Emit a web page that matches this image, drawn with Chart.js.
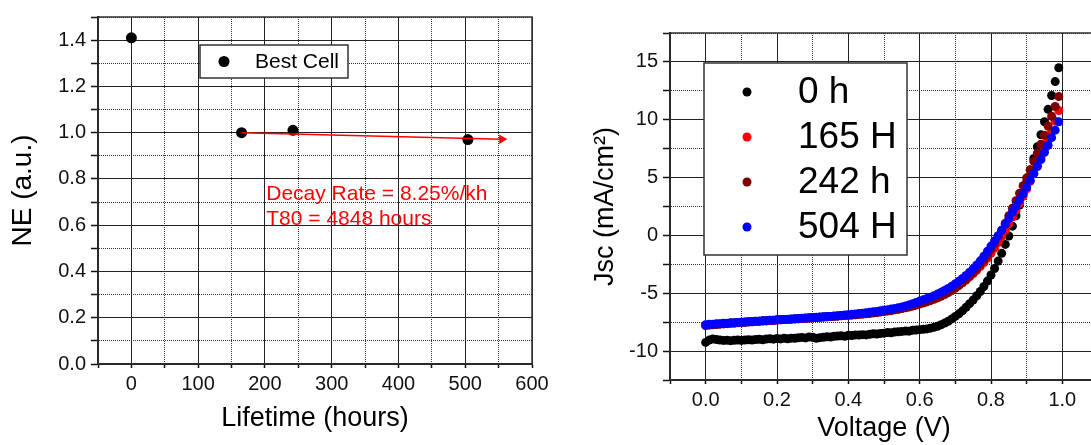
<!DOCTYPE html>
<html lang="en">
<head>
<meta charset="UTF-8">
<title>NE lifetime and J-V curves</title>
<script src="https://cdn.jsdelivr.net/npm/chart.js"></script>
<style>
  html, body { margin: 0; padding: 0; background: #fff; overflow: hidden; }
  body { width: 1091px; height: 445px; position: relative; }
  #lifeBox { position: absolute; left: 0; top: 0; width: 560px; height: 445px; }
  #jvBox { position: absolute; left: 580px; top: 0; width: 530px; height: 445px; }
</style>
</head>
<body>
<div id="lifeBox"><canvas id="lifeChart" width="560" height="445"></canvas></div>
<div id="jvBox"><canvas id="jvChart" width="530" height="445"></canvas></div>
<script>
// left panel: normalised efficiency vs lifetime
var lifeHours = [0, 165, 242, 504];
var lifeNE = [1.41, 1.00, 1.01, 0.97];
var fitHours = [165, 555];
var fitNE = [1.00, 0.972];
var lifeLegend = 'Best Cell';
var decayNote = ['Decay Rate = 8.25%/kh', 'T80 = 4848 hours'];

// right panel: J-V curves at different ages
var voltage = [
  0.00, 0.01, 0.02, 0.03, 0.04, 0.05, 0.06, 0.07, 0.08, 0.09,
  0.10, 0.11, 0.12, 0.13, 0.14, 0.15, 0.16, 0.17, 0.18, 0.19,
  0.20, 0.21, 0.22, 0.23, 0.24, 0.25, 0.26, 0.27, 0.28, 0.29,
  0.30, 0.31, 0.32, 0.33, 0.34, 0.35, 0.36, 0.37, 0.38, 0.39,
  0.40, 0.41, 0.42, 0.43, 0.44, 0.45, 0.46, 0.47, 0.48, 0.49,
  0.50, 0.51, 0.52, 0.53, 0.54, 0.55, 0.56, 0.57, 0.58, 0.59,
  0.60, 0.61, 0.62, 0.63, 0.64, 0.65, 0.66, 0.67, 0.68, 0.69,
  0.70, 0.71, 0.72, 0.73, 0.74, 0.75, 0.76, 0.77, 0.78, 0.79,
  0.80, 0.81, 0.82, 0.83, 0.84, 0.85, 0.86, 0.87, 0.88, 0.89,
  0.90, 0.91, 0.92, 0.93, 0.94, 0.95, 0.96, 0.97, 0.98, 0.99
];
var jsc0h = [
  -9.25, -9.05, -8.95, -9.00, -9.05, -9.08, -9.06, -9.10, -9.07, -9.05,
  -9.08, -9.04, -9.02, -9.05, -9.00, -8.98, -9.02, -8.96, -8.94, -8.97,
  -8.92, -8.95, -8.90, -8.93, -8.88, -8.90, -8.85, -8.82, -8.86, -8.78,
  -8.80, -8.90, -8.84, -8.80, -8.76, -8.78, -8.72, -8.70, -8.68, -8.72,
  -8.64, -8.66, -8.60, -8.62, -8.58, -8.60, -8.55, -8.50, -8.52, -8.47,
  -8.45, -8.40, -8.42, -8.36, -8.33, -8.30, -8.26, -8.28, -8.20, -8.18,
  -8.15, -8.12, -8.08, -8.02, -7.95, -7.85, -7.72, -7.58, -7.42, -7.22,
  -7.00, -6.78, -6.52, -6.22, -5.90, -5.58, -5.22, -4.85, -4.42, -3.95,
  -3.42, -2.86, -2.22, -1.55, -0.78, -0.05, 0.80, 1.70, 2.62, 3.60,
  4.62, 5.65, 6.65, 7.67, 8.70, 9.83, 10.90, 12.10, 13.30, 14.50
];
var jsc165h = [
  -7.78, -7.74, -7.70, -7.69, -7.65, -7.62, -7.63, -7.58, -7.57, -7.53,
  -7.52, -7.50, -7.44, -7.47, -7.43, -7.42, -7.37, -7.39, -7.33, -7.35,
  -7.31, -7.30, -7.27, -7.27, -7.24, -7.22, -7.20, -7.19, -7.16, -7.14,
  -7.11, -7.10, -7.08, -7.06, -7.03, -7.02, -6.99, -6.97, -6.94, -6.92,
  -6.90, -6.87, -6.85, -6.81, -6.79, -6.75, -6.72, -6.68, -6.65, -6.60,
  -6.56, -6.51, -6.47, -6.41, -6.36, -6.30, -6.23, -6.16, -6.08, -5.99,
  -5.90, -5.80, -5.70, -5.59, -5.47, -5.34, -5.20, -5.05, -4.89, -4.71,
  -4.52, -4.31, -4.09, -3.85, -3.59, -3.31, -3.01, -2.69, -2.34, -1.96,
  -1.55, -1.10, -0.62, -0.10, 0.44, 1.00, 1.58, 2.16, 2.76, 3.38,
  4.02, 4.68, 5.36, 6.06, 6.76, 7.48, 8.22, 9.00, 9.88, 10.80
];
var jsc242h = [
  -7.80, -7.75, -7.72, -7.70, -7.67, -7.65, -7.62, -7.60, -7.58, -7.56,
  -7.53, -7.51, -7.49, -7.47, -7.45, -7.43, -7.40, -7.38, -7.36, -7.34,
  -7.32, -7.30, -7.28, -7.26, -7.24, -7.22, -7.20, -7.18, -7.16, -7.14,
  -7.12, -7.10, -7.08, -7.06, -7.04, -7.02, -7.00, -6.98, -6.95, -6.93,
  -6.91, -6.88, -6.86, -6.83, -6.80, -6.77, -6.74, -6.70, -6.67, -6.63,
  -6.58, -6.54, -6.49, -6.44, -6.38, -6.32, -6.26, -6.19, -6.11, -6.03,
  -5.94, -5.85, -5.75, -5.64, -5.52, -5.40, -5.26, -5.11, -4.95, -4.77,
  -4.56, -4.33, -4.08, -3.81, -3.52, -3.21, -2.88, -2.52, -2.13, -1.71,
  -1.20, -0.68, -0.13, 0.45, 1.05, 1.70, 2.35, 3.00, 3.65, 4.30,
  4.98, 5.68, 6.40, 7.12, 7.88, 8.65, 9.45, 10.30, 11.15, 12.00
];
var jsc504h = [
  -7.72, -7.68, -7.67, -7.64, -7.63, -7.60, -7.59, -7.56, -7.55, -7.52,
  -7.50, -7.49, -7.46, -7.45, -7.42, -7.41, -7.38, -7.37, -7.34, -7.33,
  -7.30, -7.28, -7.27, -7.24, -7.23, -7.20, -7.18, -7.17, -7.14, -7.12,
  -7.10, -7.08, -7.06, -7.04, -7.02, -7.00, -6.97, -6.95, -6.92, -6.89,
  -6.86, -6.82, -6.79, -6.76, -6.73, -6.69, -6.65, -6.61, -6.57, -6.52,
  -6.47, -6.42, -6.37, -6.31, -6.25, -6.18, -6.10, -6.01, -5.91, -5.80,
  -5.68, -5.57, -5.46, -5.34, -5.21, -5.07, -4.92, -4.76, -4.58, -4.39,
  -4.18, -3.96, -3.72, -3.46, -3.18, -2.88, -2.56, -2.20, -1.80, -1.37,
  -0.92, -0.48, -0.02, 0.45, 0.95, 1.45, 2.00, 2.52, 3.05, 3.60,
  4.18, 4.76, 5.35, 5.95, 6.55, 7.18, 7.80, 8.45, 9.10, 9.82
];
var jvLabels = ['0 h', '165 H', '242 h', '504 H'];
var jvColors = ['#000000', '#ff0000', '#800000', '#0000ff'];

var FONT = "'Liberation Sans', Arial, sans-serif";

function pairs(xs, ys) {
  return xs.map(function(x, i) { return { x: x, y: ys[i] }; });
}

// major grid = solid, minor = dotted
function gridFor(isMajor, tickLen) {
  return {
    grid: {
      color: function(c) { return c.tick && !isMajor(c.tick.value) ? '#333' : '#222'; },
      lineWidth: 1,
      tickLength: tickLen,
      tickColor: '#111',
      tickWidth: 1.5
    },
    border: {
      color: '#111',
      width: 2,
      dash: function(c) { return c.tick && !isMajor(c.tick.value) ? [1, 1] : []; }
    }
  };
}

var frame = {
  id: 'frame',
  afterDraw: function(chart) {
    var a = chart.chartArea, ctx = chart.ctx;
    ctx.save();
    ctx.strokeStyle = '#333';
    ctx.lineWidth = 1.5;
    ctx.strokeRect(a.left, a.top, a.right - a.left, a.bottom - a.top);
    ctx.restore();
  }
};

function boxLegend(id, items, colors, box) {
  return {
    id: id,
    afterDatasetsDraw: function(chart) {
      var a = chart.chartArea, ctx = chart.ctx;
      var bx = a.left + box.dx, by = a.top + box.dy;
      ctx.save();
      ctx.fillStyle = '#fff';
      ctx.fillRect(bx, by, box.w, box.h);
      ctx.strokeStyle = '#333';
      ctx.lineWidth = 1.5;
      ctx.strokeRect(bx, by, box.w, box.h);
      ctx.font = box.size + 'px ' + FONT;
      ctx.textBaseline = 'middle';
      ctx.textAlign = 'left';
      items.forEach(function(t, i) {
        var cy = by + box.row0 + i * box.gap;
        ctx.fillStyle = colors[i];
        ctx.beginPath();
        ctx.arc(bx + box.mx, cy, box.r, 0, Math.PI * 2);
        ctx.fill();
        ctx.fillStyle = '#000';
        ctx.fillText(t, bx + box.tx, cy + 1);
      });
      ctx.restore();
    }
  };
}

var decayText = {
  id: 'decayText',
  afterDatasetsDraw: function(chart) {
    var ctx = chart.ctx, xs = chart.scales.x, ys = chart.scales.y;
    ctx.save();
    ctx.fillStyle = '#ff0000';
    ctx.font = '21px ' + FONT;
    ctx.textBaseline = 'middle';
    ctx.fillText(decayNote[0], xs.getPixelForValue(202), ys.getPixelForValue(0.735));
    ctx.fillText(decayNote[1], xs.getPixelForValue(202), ys.getPixelForValue(0.625));
    ctx.restore();
  }
};

var tickFont = { family: FONT, size: 20 };
var titleFont = { family: FONT, size: 27 };

var lifeX = gridFor(function(v) { return Math.round(v) % 100 === 0; }, 4);
var lifeY = gridFor(function(v) { return Math.round(v * 10) % 2 === 0; }, 7);

new Chart(document.getElementById('lifeChart'), {
  data: {
    datasets: [
      {
        type: 'line',
        data: pairs(fitHours, fitNE),
        borderColor: '#ff0000',
        backgroundColor: '#ff0000',
        borderWidth: 1.5,
        pointRadius: [0, 4],
        pointStyle: 'triangle',
        rotation: 90,
        order: 0
      },
      {
        type: 'scatter',
        label: lifeLegend,
        data: pairs(lifeHours, lifeNE),
        backgroundColor: '#000',
        borderWidth: 0,
        pointRadius: 5.5,
        order: 1
      }
    ]
  },
  options: {
    responsive: false,
    animation: false,
    layout: { padding: { top: 16, right: 28, left: 0, bottom: 0 } },
    plugins: { legend: { display: false }, tooltip: { enabled: false } },
    scales: {
      x: {
        type: 'linear', min: -50, max: 600,
        afterFit: function(s) { s.height = 81; },
        ticks: {
          stepSize: 50, autoSkip: false, maxRotation: 0, color: '#111', font: tickFont, padding: 4,
          callback: function(v) { return Math.round(v) % 100 === 0 ? String(Math.round(v)) : ''; }
        },
        title: { display: true, text: 'Lifetime (hours)', color: '#000', font: titleFont, padding: { top: 0, bottom: 10 } },
        grid: lifeX.grid, border: lifeX.border
      },
      y: {
        type: 'linear', min: 0, max: 1.5,
        afterFit: function(s) { s.width = 98; },
        ticks: {
          stepSize: 0.1, autoSkip: false, color: '#111', font: tickFont, padding: 5,
          callback: function(v) { return Math.round(v * 10) % 2 === 0 ? v.toFixed(1) : ''; }
        },
        title: { display: true, text: 'NE (a.u.)', color: '#000', font: { family: FONT, size: 28 }, padding: { top: 6, bottom: 0 } },
        grid: lifeY.grid, border: lifeY.border
      }
    }
  },
  plugins: [frame, decayText,
    boxLegend('lifeLegend', [lifeLegend], ['#000'], { dx: 102, dy: 28, w: 148, h: 33, mx: 24, tx: 55, row0: 16.5, gap: 0, r: 5.5, size: 21 })]
});

var jvX = gridFor(function(v) { return Math.round(v * 10) % 2 === 0; }, 4);
var jvY = gridFor(function(v) { return Math.round(v * 2) % 10 === 0; }, 7);
var jvSeries = [jsc0h, jsc165h, jsc242h, jsc504h];

new Chart(document.getElementById('jvChart'), {
  type: 'scatter',
  data: {
    datasets: jvSeries.map(function(ys, i) {
      return {
        label: jvLabels[i],
        data: pairs(voltage, ys),
        backgroundColor: jvColors[i],
        borderWidth: 0,
        pointRadius: 4.5,
        order: jvSeries.length - i
      };
    })
  },
  options: {
    responsive: false,
    animation: false,
    layout: { padding: { top: 33, right: 12, left: 0, bottom: 0 } },
    plugins: { legend: { display: false }, tooltip: { enabled: false } },
    scales: {
      x: {
        type: 'linear', min: -0.1, max: 1.1,
        afterFit: function(s) { s.height = 65; },
        ticks: {
          stepSize: 0.1, autoSkip: false, maxRotation: 0, color: '#111', font: tickFont, padding: 4,
          callback: function(v) { return Math.round(v * 10) % 2 === 0 && v > -0.05 ? v.toFixed(1) : ''; }
        },
        title: { display: true, text: 'Voltage (V)', color: '#000', font: titleFont, padding: { top: 0, bottom: 0 } },
        grid: jvX.grid, border: jvX.border
      },
      y: {
        type: 'linear', min: -12.5, max: 17.5,
        afterFit: function(s) { s.width = 90; },
        ticks: {
          stepSize: 2.5, autoSkip: false, color: '#111', font: tickFont, padding: 5,
          callback: function(v) { return Math.round(v * 2) % 10 === 0 ? String(Math.round(v)) : ''; }
        },
        title: { display: true, text: 'Jsc (mA/cm²)', color: '#000', font: titleFont, padding: { top: 9, bottom: 0 } },
        grid: jvY.grid, border: jvY.border
      }
    }
  },
  plugins: [frame,
    boxLegend('jvLegend', jvLabels, jvColors, { dx: 34, dy: 30, w: 203, h: 192, mx: 43, tx: 94, row0: 29, gap: 45, r: 4.5, size: 37 })]
});
</script>
</body>
</html>
